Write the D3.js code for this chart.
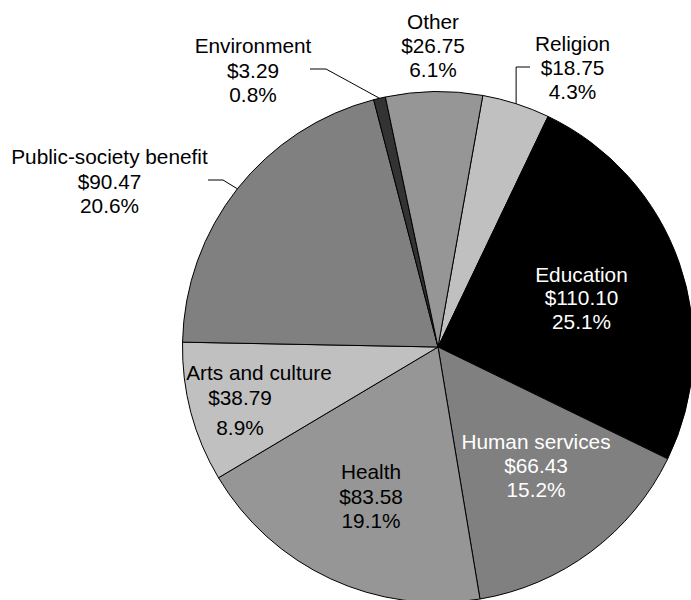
<!DOCTYPE html>
<html>
<head>
<meta charset="utf-8">
<script src="https://cdn.jsdelivr.net/npm/d3@7"></script>
<style>
  html, body { margin: 0; padding: 0; background: #fff; }
  svg { display: block; }
  text { font-family: "Liberation Sans", Arial, Helvetica, sans-serif; font-size: 20.8px; }
</style>
</head>
<body>
<svg id="chart" width="691" height="600"></svg>
<script>
// Giving by recipient type (billions of dollars)
const categories = ["Religion", "Education", "Human services", "Health",
                    "Arts and culture", "Public-society benefit", "Environment", "Other"];
const values = [18.75, 110.10, 66.43, 83.58, 38.79, 90.47, 3.29, 26.75];

const sliceFill = d3.scaleOrdinal()
  .domain(categories)
  .range(["#c0c0c0", "#000000", "#808080", "#969696", "#c0c0c0", "#808080", "#333333", "#969696"]);
const textFill = d3.scaleOrdinal()
  .domain(categories)
  .range(["#000", "#fff", "#fff", "#000", "#000", "#000", "#000", "#000"]);

// Label placement: one [x, baseline] per text line (name, amount, share)
const labelLayout = {
  "Religion":               [[572.5, 51], [572.5, 75], [572.5, 99]],
  "Education":              [[581.5, 281.5], [581.5, 305], [581.5, 329]],
  "Human services":         [[536, 449], [536, 473], [536, 497]],
  "Health":                 [[371, 479], [371, 503.5], [371, 528]],
  "Arts and culture":       [[259, 380], [240, 405], [240, 435]],
  "Public-society benefit": [[109.5, 164], [109.5, 188.5], [109.5, 212.5]],
  "Environment":            [[253, 53], [253, 77.5], [253, 101.5]],
  "Other":                  [[433, 28.5], [433, 53], [433, 77]]
};
// Leader lines: horizontal run from x0 to x1 at y, then to the slice edge
const leaderLayout = {
  "Environment":            { x0: 310, x1: 326, y: 69 },
  "Religion":               { x0: 530, x1: null, y: 67 },
  "Public-society benefit": { x0: 208, x1: 223, y: 180 }
};

const cx = 438, cy = 347, radius = 255.5;
const start = 10.1 * Math.PI / 180;

const svg = d3.select("#chart");
const g = svg.append("g").attr("transform", `translate(${cx},${cy})`);

const pie = d3.pie().sort(null).value(d => d.value)
  .startAngle(start).endAngle(start + 2 * Math.PI);
const data = categories.map((c, i) => ({ name: c, value: values[i] }));
const arcs = pie(data);
const total = d3.sum(values);

const arc = d3.arc().innerRadius(0).outerRadius(radius);

g.selectAll("path.slice")
  .data(arcs)
  .join("path")
  .attr("class", "slice")
  .attr("d", arc)
  .attr("fill", d => sliceFill(d.data.name))
  .attr("stroke", "#000")
  .attr("stroke-width", 1)
  .attr("stroke-linejoin", "round");

// Leader lines to slices labelled outside the pie
arcs.filter(d => leaderLayout[d.data.name]).forEach(d => {
  const L = leaderLayout[d.data.name];
  const mid = (d.startAngle + d.endAngle) / 2;
  const ex = cx + radius * Math.sin(mid);
  const ey = cy - radius * Math.cos(mid);
  const x1 = L.x1 === null ? ex : L.x1;
  svg.append("polyline")
    .attr("points", [[L.x0, L.y], [x1, L.y], [ex, ey]].map(p => p.join(",")).join(" "))
    .attr("fill", "none")
    .attr("stroke", "#000")
    .attr("stroke-width", 1);
});

const money = d3.format("$.2f");
const pct = d3.format(".1%");

arcs.forEach(d => {
  const name = d.data.name;
  const lines = [name, money(d.data.value), pct(d.data.value / total)];
  const pos = labelLayout[name];
  lines.forEach((t, i) => {
    svg.append("text")
      .attr("x", pos[i][0])
      .attr("y", pos[i][1])
      .attr("text-anchor", "middle")
      .attr("fill", textFill(name))
      .text(t);
  });
});
</script>
</body>
</html>
